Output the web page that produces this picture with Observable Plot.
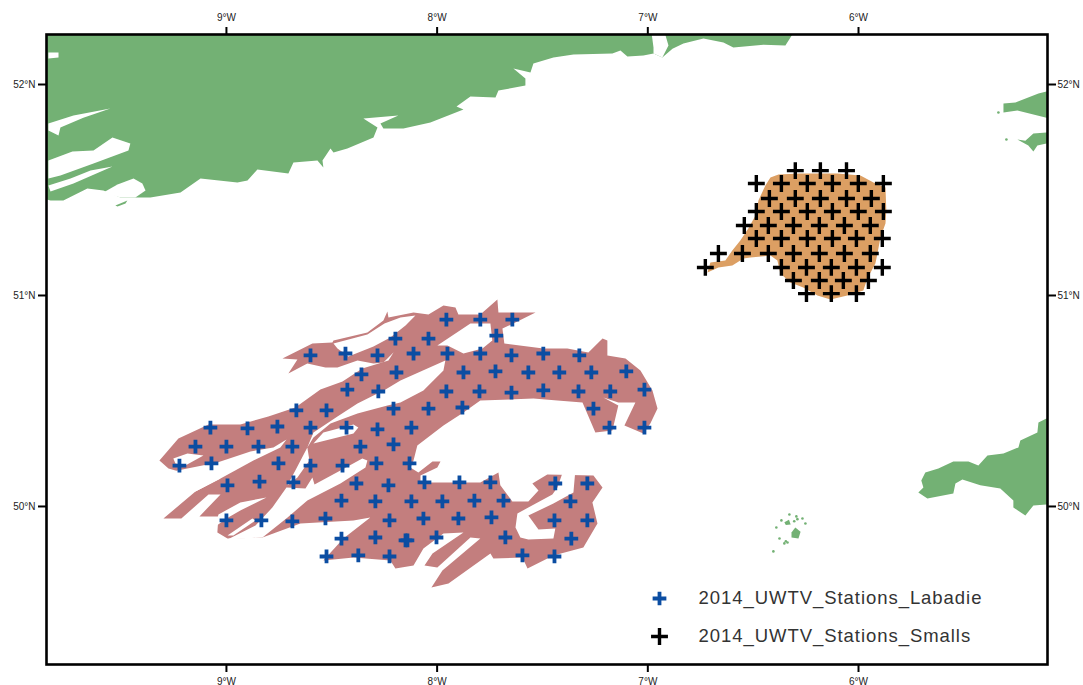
<!DOCTYPE html>
<html>
<head>
<meta charset="utf-8">
<script src="https://cdn.jsdelivr.net/npm/d3@7"></script>
<script src="https://cdn.jsdelivr.net/npm/@observablehq/plot@0.6"></script>
<style>
html,body{margin:0;padding:0;background:#fff;}
svg{display:block;}
.legend-text text{letter-spacing:0.95px;}
</style>
</head>
<body>
<div id="chart"></div>
<script>
const lonTicks = [-9, -8, -7, -6];
const latTicks = [50, 51, 52];
const legendLabels = ["2014_UWTV_Stations_Labadie", "2014_UWTV_Stations_Smalls"];

const labadieStations = [
[-8.198,50.796],[-8.601,50.716],[-8.435,50.725],[-8.283,50.716],[-8.359,50.626],[-8.193,50.635],[-8.426,50.554],[-8.279,50.545],
[-8.668,50.455],[-8.525,50.455],[-8.207,50.464],[-9.076,50.374],[-8.900,50.370],[-8.758,50.379],[-8.601,50.374],[-8.430,50.374],
[-8.283,50.365],[-9.147,50.284],[-9,50.284],[-8.848,50.284],[-8.687,50.284],[-8.364,50.284],[-8.207,50.294],[-9.223,50.194],
[-9.071,50.204],[-8.753,50.204],[-8.601,50.194],[-8.449,50.194],[-8.288,50.204],[-8.995,50.100],[-8.843,50.118],[-8.682,50.114],
[-8.383,50.109],[-8.231,50.100],[-8.454,50.028],[-8.293,50.024],[-9,49.934],[-8.834,49.934],[-8.687,49.929],[-8.530,49.943],
[-8.226,49.934],[-8.454,49.848],[-8.293,49.853],[-8.150,49.839],[-8.525,49.763],[-8.374,49.768],[-8.226,49.763],
[-7.956,50.886],[-7.795,50.886],[-7.643,50.886],[-8.041,50.796],[-7.719,50.810],[-8.112,50.725],[-7.951,50.725],[-7.795,50.725],
[-7.647,50.716],[-7.496,50.725],[-7.325,50.716],[-7.875,50.635],[-7.723,50.640],[-7.567,50.635],[-7.420,50.635],[-7.268,50.635],
[-7.102,50.640],[-7.956,50.545],[-7.799,50.545],[-7.647,50.540],[-7.496,50.550],[-7.329,50.545],[-7.178,50.545],[-7.016,50.554],
[-8.041,50.464],[-7.880,50.469],[-7.258,50.464],[-8.122,50.374],[-7.182,50.374],[-7.016,50.374],[-8.131,50.204],[-8.060,50.114],
[-7.894,50.114],[-7.747,50.114],[-7.439,50.109],[-7.287,50.109],[-8.122,50.024],[-7.975,50.024],[-7.823,50.028],[-7.685,50.028],
[-7.367,50.024],[-8.065,49.943],[-7.899,49.943],[-7.742,49.948],[-7.443,49.934],[-7.287,49.934],[-8.141,49.839],[-8.003,49.853],
[-7.676,49.853],[-7.363,49.848],[-7.595,49.768],[-7.443,49.763]
];

const smallsStations = [
[-6.300,51.592],[-6.181,51.592],[-6.057,51.592],
[-6.485,51.531],[-6.366,51.531],[-6.243,51.531],[-6.124,51.531],[-6.001,51.531],[-5.882,51.531],
[-6.423,51.460],[-6.300,51.460],[-6.181,51.460],[-6.057,51.460],[-5.939,51.460],
[-6.485,51.398],[-6.366,51.398],[-6.243,51.398],[-6.124,51.398],[-6.001,51.398],[-5.882,51.398],
[-6.542,51.332],[-6.428,51.332],[-6.309,51.332],[-6.186,51.332],[-6.067,51.332],[-5.944,51.332],
[-6.485,51.270],[-6.366,51.270],[-6.243,51.270],[-6.124,51.270],[-6.010,51.270],[-5.887,51.270],
[-6.665,51.199],[-6.551,51.199],[-6.428,51.199],[-6.309,51.199],[-6.186,51.199],[-6.067,51.199],[-5.944,51.199],
[-6.727,51.133],[-6.366,51.133],[-6.247,51.133],[-6.129,51.133],[-6.010,51.133],[-5.887,51.133],
[-6.309,51.071],[-6.186,51.071],[-6.072,51.071],[-5.953,51.071],
[-6.247,51.009],[-6.129,51.009],[-6.010,51.009]
];

const smallsGround = [
[-6.717,51.109],[-6.703,51.156],[-6.632,51.166],[-6.599,51.213],[-6.561,51.261],[-6.523,51.317],[-6.489,51.379],[-6.475,51.450],
[-6.442,51.521],[-6.418,51.559],[-6.380,51.573],[-6.276,51.578],[-6.100,51.578],[-5.991,51.569],[-5.929,51.535],[-5.872,51.512],
[-5.868,51.403],[-5.872,51.341],[-5.896,51.275],[-5.910,51.199],[-5.920,51.152],[-5.958,51.080],[-5.977,51.024],[-6.053,51.000],
[-6.133,50.981],[-6.195,51.000],[-6.262,51.038],[-6.323,51.062],[-6.371,51.104],[-6.385,51.166],[-6.418,51.189],[-6.513,51.180],
[-6.546,51.175],[-6.599,51.142],[-6.665,51.133]
];

const labadieGroundMain = [
[-9.318,50.218],[-9.228,50.322],[-9.085,50.389],[-8.934,50.389],[-8.801,50.427],[-8.673,50.469],[-8.554,50.554],[-8.449,50.592],
[-8.355,50.654],[-8.231,50.692],[-8.207,50.730],[-7.681,50.772],[-7.496,50.749],[-7.382,50.749],[-7.282,50.730],[-7.215,50.796],
[-7.192,50.787],[-7.192,50.716],[-7.106,50.701],[-7.035,50.645],[-6.978,50.550],[-6.954,50.464],[-6.988,50.393],[-7.021,50.346],
[-7.111,50.384],[-7.059,50.493],[-7.140,50.493],[-7.211,50.517],[-7.140,50.479],[-7.168,50.360],[-7.249,50.351],[-7.310,50.493],
[-7.429,50.502],[-7.543,50.512],[-7.795,50.502],[-7.875,50.445],[-7.970,50.384],[-8.094,50.289],[-8.112,50.218],[-8.127,50.185],
[-8.089,50.161],[-8.022,50.213],[-7.984,50.213],[-7.999,50.185],[-8.079,50.147],[-8.079,50.114],[-7.795,50.114],[-7.709,50.161],
[-7.700,50.100],[-7.643,50.024],[-7.567,50.024],[-7.519,50.076],[-7.548,50.109],[-7.477,50.152],[-7.258,50.147],[-7.215,50.090],
[-7.263,50.019],[-7.239,49.919],[-7.306,49.806],[-7.448,49.768],[-7.571,49.706],[-7.595,49.758],[-7.733,49.754],[-7.747,49.777],
[-7.946,49.635],[-8.027,49.616],[-7.975,49.697],[-7.795,49.848],[-7.842,49.853],[-7.999,49.711],[-8.060,49.720],[-8.022,49.777],
[-7.875,49.877],[-7.970,49.872],[-8.065,49.801],[-8.112,49.720],[-8.198,49.706],[-8.222,49.744],[-8.397,49.758],[-8.540,49.744],
[-8.445,49.848],[-8.317,49.948],[-8.397,49.934],[-8.649,49.919],[-8.829,49.853],[-8.995,49.848],[-9.043,49.877],[-9.038,49.953],
[-9.128,49.953],[-9.028,50.057],[-9.085,50.057],[-9.214,49.943],[-9.299,49.943],[-9.147,50.071],[-9.028,50.133],[-9.242,50.171],
[-9.275,50.180]
];

const labadieGroundNorth = [
[-8.734,50.701],[-8.592,50.772],[-8.497,50.777],[-8.492,50.787],[-8.331,50.825],[-8.255,50.881],[-8.236,50.924],[-8.231,50.896],
[-8.112,50.919],[-8.041,50.910],[-7.970,50.953],[-7.913,50.943],[-7.899,50.910],[-7.795,50.910],[-7.714,50.981],[-7.709,50.919],
[-7.533,50.919],[-7.638,50.867],[-7.690,50.844],[-7.681,50.772],[-7.681,50.692],[-8.207,50.692],[-8.207,50.730],[-8.255,50.682],
[-8.302,50.678],[-8.378,50.692],[-8.473,50.659],[-8.530,50.659],[-8.616,50.678],[-8.706,50.630],[-8.663,50.697]
];

const labadieGaps = [
[[-9.252,50.227],[-9.185,50.251],[-9.109,50.242],[-9.195,50.194],[-9.242,50.204]],
[[-9.233,50.171],[-9.043,50.209],[-8.886,50.261],[-8.777,50.280],[-8.715,50.318],[-8.744,50.280],[-8.872,50.218],[-9.028,50.133],[-9.147,50.071],[-9.266,50.076]],
[[-9.038,49.962],[-8.934,50.019],[-8.810,50.043],[-8.934,49.981],[-9,49.943],[-9.052,49.905]],
[[-8.995,49.863],[-8.877,49.943],[-8.862,49.934],[-8.967,49.863]],
[[-8.616,50.280],[-8.606,50.218],[-8.663,50.137],[-8.710,50.100],[-8.668,50.180]],
[[-8.625,50.085],[-8.592,50.137],[-8.582,50.104],[-8.459,50.171],[-8.355,50.227],[-8.331,50.218],[-8.340,50.185],[-8.459,50.109],[-8.616,50.028],[-8.710,49.948],[-8.829,49.853],[-8.995,49.844],[-8.862,49.910],[-8.782,49.995],[-8.715,50.090]],
[[-8.587,50.299],[-8.540,50.351],[-8.397,50.389],[-8.374,50.374],[-8.397,50.346]],
[[-8.616,50.280],[-8.587,50.351],[-8.473,50.427],[-8.378,50.488],[-8.245,50.554],[-8.174,50.597],[-7.961,50.692],[-7.970,50.645],[-8.065,50.550],[-8.174,50.493],[-8.236,50.479],[-8.378,50.441],[-8.506,50.393],[-8.587,50.327]],
[[-7.401,50.171],[-7.344,50.171],[-7.353,50.066],[-7.448,50.014],[-7.567,49.957],[-7.519,49.891],[-7.439,49.896],[-7.448,49.848],[-7.567,49.844],[-7.605,49.853],[-7.628,49.900],[-7.619,49.967],[-7.453,50.057],[-7.429,50.090]],
[[-8.492,50.772],[-8.331,50.815],[-8.250,50.867],[-8.174,50.896],[-8.103,50.905],[-8.150,50.858],[-8.222,50.801],[-8.302,50.758],[-8.421,50.711],[-8.473,50.749]],
[[-7.999,50.763],[-7.842,50.867],[-7.747,50.867],[-7.738,50.787],[-7.785,50.749],[-7.875,50.725],[-7.951,50.763]]
];

const ireland = [
[-6.314,52.3],[-6.314,52.237],[-6.347,52.185],[-6.451,52.189],[-6.594,52.175],[-6.641,52.199],[-6.736,52.218],[-6.831,52.194],
[-6.883,52.170],[-6.931,52.128],[-6.973,52.147],[-7.021,52.137],[-7.097,52.133],[-7.130,52.161],[-7.168,52.147],[-7.353,52.142],
[-7.448,52.128],[-7.543,52.099],[-7.557,52.057],[-7.638,52.076],[-7.581,52.028],[-7.581,51.995],[-7.709,51.971],[-7.723,51.938],
[-7.842,51.943],[-7.908,51.896],[-7.875,51.881],[-8.032,51.820],[-8.160,51.791],[-8.255,51.791],[-8.269,51.815],[-8.184,51.853],
[-8.350,51.839],[-8.283,51.796],[-8.302,51.749],[-8.426,51.697],[-8.492,51.678],[-8.506,51.697],[-8.544,51.640],[-8.540,51.607],
[-8.568,51.640],[-8.682,51.630],[-8.706,51.578],[-8.853,51.597],[-8.900,51.545],[-8.948,51.535],[-9.123,51.554],[-9.218,51.488],
[-9.361,51.464],[-9.503,51.464],[-9.584,51.498],[-9.660,51.507],[-9.774,51.450],[-9.835,51.450],[-9.9,51.470],[-9.9,52.3]
];
const irelandIslet = [[-9.527,51.426],[-9.470,51.450],[-9.479,51.436],[-9.517,51.422]];
const irelandInlets = [
[[-9.845,51.554],[-9.788,51.569],[-9.631,51.625],[-9.465,51.687],[-9.456,51.720],[-9.541,51.749],[-9.631,51.687],[-9.731,51.682],[-9.845,51.640]],
[[-9.845,51.782],[-9.845,51.815],[-9.726,51.853],[-9.551,51.886],[-9.679,51.843],[-9.788,51.796],[-9.797,51.758]],
[[-9.845,51.521],[-9.835,51.493],[-9.726,51.531],[-9.541,51.611],[-9.645,51.592],[-9.740,51.554]],
[[-9.845,52.152],[-9.797,52.152],[-9.797,52.128],[-9.845,52.123]],
[[-9.584,51.488],[-9.517,51.526],[-9.441,51.554],[-9.399,51.531],[-9.384,51.498],[-9.432,51.464],[-9.503,51.464]],
[[-6.983,52.25],[-6.921,52.25],[-6.902,52.185],[-6.931,52.128],[-6.973,52.147],[-6.973,52.175]]
];
const cornwall = [
[-5.05,50.417],[-5.108,50.417],[-5.146,50.398],[-5.151,50.351],[-5.232,50.313],[-5.241,50.280],[-5.312,50.251],[-5.388,50.242],
[-5.431,50.194],[-5.478,50.213],[-5.550,50.213],[-5.621,50.180],[-5.683,50.161],[-5.702,50.123],[-5.692,50.090],[-5.716,50.066],
[-5.673,50.038],[-5.550,50.062],[-5.540,50.109],[-5.507,50.128],[-5.422,50.100],[-5.327,50.085],[-5.265,50.028],[-5.265,49.995],
[-5.208,49.957],[-5.170,50.005],[-5.108,50.009],[-5.05,50.009]
];
const walesNorth = [[-5.05,51.967],[-5.108,51.967],[-5.146,51.957],[-5.255,51.915],[-5.312,51.910],[-5.312,51.867],[-5.246,51.877],[-5.108,51.843],[-5.05,51.843]];
const walesSouth = [[-5.05,51.772],[-5.108,51.772],[-5.170,51.768],[-5.208,51.734],[-5.246,51.739],[-5.194,51.711],[-5.170,51.682],[-5.151,51.711],[-5.108,51.720],[-5.05,51.720]];
const scillyMain = [[-6.318,49.877],[-6.300,49.900],[-6.275,49.880],[-6.285,49.848],[-6.318,49.853]];
const scillyNorth = [[-6.352,49.925],[-6.330,49.937],[-6.322,49.915],[-6.345,49.912]];
const scillySpecks = [
[-6.337,49.829],[-6.352,49.825],[-6.375,49.848],[-6.328,49.962],[-6.295,49.953],[-6.266,49.943],[-6.345,49.835],
[-6.252,49.919],[-6.390,49.900],[-6.404,49.787],[-6.366,49.934],[-5.336,51.867],[-5.298,51.739],[-6.305,49.930],[-6.290,49.940]
];

const GREEN = "#73b174", PINK = "#c37e7e", ORANGE = "#dc9f63", BLUE = "#0b4da2";
const poly = (coords, fill) => Plot.line(coords, {x: d => d[0], y: d => d[1], fill, stroke: "none", clip: true});
const lonFmt = d => `${Math.abs(d)}°W`;
const latFmt = d => `${d}°N`;
const axisStyle = {tickSize: 8, strokeWidth: 2, fontSize: 10, fill: "#222", stroke: "#000", label: null};
const blueMark = {symbol: "plus", r: 4.5, stroke: BLUE, strokeWidth: 3.8};
const blackMark = {symbol: "plus", r: 5.5, stroke: "#000", strokeWidth: 3.4};
const legendText = {text: d => d, frameAnchor: "bottom-left", dx: 652, textAnchor: "start", lineAnchor: "middle", fontSize: 18.5, fill: "#333", className: "legend-text"};

const chart = Plot.plot({
  width: 1083,
  height: 685,
  marginLeft: 46,
  marginRight: 36,
  marginTop: 34,
  marginBottom: 21,
  style: {fontFamily: "'Liberation Sans', Arial, sans-serif", background: "#fff", overflow: "visible"},
  x: {domain: [-9.854, -5.103], label: null},
  y: {domain: [49.251, 52.237], label: null},
  marks: [
    poly(ireland, GREEN),
    poly(irelandIslet, GREEN),
    ...irelandInlets.map(p => poly(p, "#fff")),
    poly(cornwall, GREEN),
    poly(walesNorth, GREEN),
    poly(walesSouth, GREEN),
    poly(scillyMain, GREEN),
    poly(scillyNorth, GREEN),
    Plot.dot(scillySpecks, {x: d => d[0], y: d => d[1], r: 1.3, fill: GREEN, stroke: "none", clip: true}),
    poly(labadieGroundMain, PINK),
    poly(labadieGroundNorth, PINK),
    ...labadieGaps.map(p => poly(p, "#fff")),
    poly(smallsGround, ORANGE),
    Plot.dot(labadieStations, {x: d => d[0], y: d => d[1], ...blueMark}),
    Plot.dot(smallsStations, {x: d => d[0], y: d => d[1], ...blackMark}),
    Plot.dot(legendLabels.slice(0, 1), {frameAnchor: "bottom-left", dx: 613, dy: -66, ...blueMark}),
    Plot.dot(legendLabels.slice(1), {frameAnchor: "bottom-left", dx: 613, dy: -28, ...blackMark}),
    Plot.text(legendLabels.slice(0, 1), {...legendText, dy: -66}),
    Plot.text(legendLabels.slice(1), {...legendText, dy: -28}),
    Plot.axisX({anchor: "top", ticks: lonTicks, tickFormat: lonFmt, tickPadding: 6, ...axisStyle}),
    Plot.axisX({anchor: "bottom", ticks: lonTicks, tickFormat: lonFmt, tickPadding: 5, ...axisStyle}),
    Plot.axisY({anchor: "left", ticks: latTicks, tickFormat: latFmt, tickPadding: 3, ...axisStyle}),
    Plot.axisY({anchor: "right", ticks: latTicks, tickFormat: latFmt, tickPadding: 2, ...axisStyle}),
    Plot.frame({stroke: "#000", strokeWidth: 2.6})
  ]
});
document.getElementById("chart").append(chart);
</script>
</body>
</html>
